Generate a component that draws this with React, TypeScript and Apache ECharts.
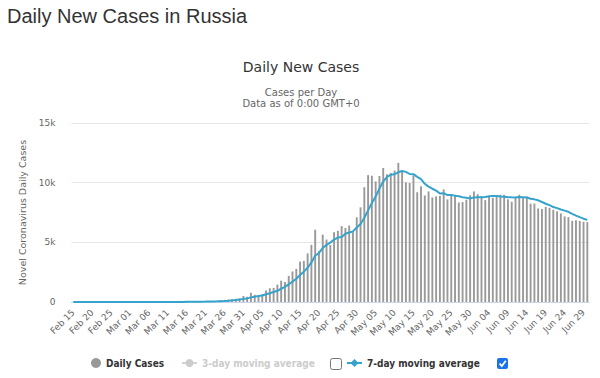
import React, { useEffect, useRef } from 'react';
import * as echarts from 'echarts';

// Daily new cases, Feb 15 – Jun 30, 2020
const startDate = { year: 2020, month: 1, day: 15 };

const dailyCases = [
  // Feb 15 – Feb 29
  0, 0, 0, 0, 0, 0, 0, 0, 0, 0, 0, 0, 0, 0, 0,
  // Mar
  0, 1, 0, 0, 1, 6, 4, 3, 0, 3, 0, 8, 17, 14, 4, 30, 21, 33, 52, 54, 53, 61, 71, 57, 163, 182, 196, 228, 270, 302, 501,
  // Apr
  440, 771, 601, 582, 658, 954, 1154, 1175, 1459, 1786, 1667, 2186, 2558, 2774, 3388, 3448, 4070, 4785, 6060, 4268,
  5642, 5236, 4774, 5849, 5966, 6361, 6198, 6411, 5841, 7099,
  // May
  7933, 9623, 10633, 10581, 10102, 10559, 11231, 10699, 10817, 11012, 11656, 10899, 10028, 9974, 10598, 9200, 9709,
  8926, 9263, 8764, 8849, 8894, 9434, 8599, 8946, 8915, 8338, 8371, 8572, 8952, 9268,
  // Jun
  9035, 8863, 8536, 8831, 8726, 8855, 8984, 8985, 8595, 8404, 8779, 8987, 8706, 8835, 8246, 8248, 7843, 7790, 7972,
  7889, 7728, 7600, 7425, 7176, 7113, 6800, 6852, 6791, 6719, 6693,
];

const sevenDayAverage = [
  // Feb 15 – Feb 29
  0, 0, 0, 0, 0, 0, 0, 0, 0, 0, 0, 0, 0, 0, 0,
  // Mar
  0, 0, 0, 0, 0, 1, 2, 2, 2, 2, 2, 3, 5, 6, 7, 11, 13, 18, 24, 30, 35, 43, 49, 54, 73, 92, 112, 137, 167, 200, 263,
  // Apr
  303, 387, 445, 495, 551, 644, 737, 842, 940, 1110, 1265, 1483, 1712, 1944, 2260, 2544, 2870, 3316, 3869, 4113,
  4523, 4787, 4976, 5231, 5399, 5442, 5718, 5828, 5914, 6246,
  // May
  6544, 7067, 7677, 8303, 8830, 9504, 10095, 10490, 10660, 10714, 10868, 10982, 10906, 10726, 10712, 10481, 10295,
  9905, 9671, 9491, 9330, 9086, 9120, 8961, 8964, 8914, 8854, 8785, 8739, 8670, 8766,
  // Jun
  8779, 8771, 8800, 8865, 8887, 8873, 8833, 8826, 8787, 8769, 8761, 8798, 8777, 8756, 8650, 8601, 8521, 8379, 8234,
  8118, 7959, 7867, 7750, 7654, 7558, 7390, 7242, 7108, 6982, 6878,
];

// The 3-day moving average is switched off in the legend (unchecked), so nothing is drawn
const threeDayAverage: number[] = [];

const yMin = 0;
const yMax = 15000;
const yStep = 5000;

const monthNames = ['Jan', 'Feb', 'Mar', 'Apr', 'May', 'Jun', 'Jul', 'Aug', 'Sep', 'Oct', 'Nov', 'Dec'];
const dateLabels = dailyCases.map((_, i) => {
  const d = new Date(Date.UTC(startDate.year, startDate.month, startDate.day + i));
  return `${monthNames[d.getUTCMonth()]} ${String(d.getUTCDate()).padStart(2, '0')}`;
});

const FONT = '"DejaVu Sans", Verdana, sans-serif';
const LEGEND_FONT = '"DejaVu Sans Condensed", "DejaVu Sans", Verdana, sans-serif';
const BLUE = '#35a3cb';
const GRAY = '#999999';

export default function App() {
  const ref = useRef<HTMLDivElement>(null);

  useEffect(() => {
    if (!ref.current) return;
    const chart = echarts.init(ref.current, undefined, { renderer: 'svg' });
    const legendText = { fontFamily: LEGEND_FONT, fontSize: 10, fontWeight: 'bold', color: '#333' };
    chart.setOption({
      animation: false,
      backgroundColor: '#ffffff',
      grid: { left: 71.4, right: 10.8, top: 123, bottom: 76 },
      xAxis: {
        type: 'category',
        data: dateLabels,
        boundaryGap: true,
        axisLine: { lineStyle: { color: '#ccd6eb', width: 1 } },
        axisTick: { show: false },
        splitLine: { show: false },
        axisLabel: { interval: 4, rotate: 45, fontSize: 9, color: '#666', fontFamily: FONT, margin: 9 },
      },
      yAxis: {
        type: 'value',
        min: yMin,
        max: yMax,
        interval: yStep,
        name: 'Novel Coronavirus Daily Cases',
        nameLocation: 'middle',
        nameGap: 38,
        nameTextStyle: { color: '#666', fontSize: 9.5, fontFamily: FONT },
        axisLine: { show: false },
        axisTick: { show: false },
        splitLine: { lineStyle: { color: '#e6e6e6', width: 1 } },
        axisLabel: {
          color: '#666',
          fontSize: 9,
          fontFamily: FONT,
          margin: 16,
          formatter: (v: number) => (v === 0 ? '0' : `${v / 1000}k`),
        },
      },
      legend: [
        {
          data: ['Daily Cases'],
          left: 91,
          top: 358,
          padding: 0,
          icon: 'circle',
          itemWidth: 10,
          itemHeight: 10,
          textStyle: legendText,
        },
        {
          data: ['3-day moving average'],
          left: 181,
          top: 358,
          padding: 0,
          itemWidth: 15,
          itemHeight: 10,
          inactiveColor: '#cccccc',
          selected: { '3-day moving average': false },
          textStyle: legendText,
        },
        {
          data: ['7-day moving average'],
          left: 346,
          top: 358,
          padding: 0,
          itemWidth: 15,
          itemHeight: 10,
          textStyle: legendText,
        },
      ],
      series: [
        {
          name: 'Daily Cases',
          type: 'bar',
          data: dailyCases,
          barWidth: '50%',
          itemStyle: { color: GRAY },
        },
        {
          name: '3-day moving average',
          type: 'line',
          data: threeDayAverage,
          symbol: 'circle',
          itemStyle: { color: GRAY },
        },
        {
          name: '7-day moving average',
          type: 'line',
          data: sevenDayAverage,
          showSymbol: false,
          symbol: 'diamond',
          itemStyle: { color: BLUE },
          lineStyle: { color: BLUE, width: 2 },
          z: 3,
        },
      ],
      graphic: [
        {
          type: 'text',
          x: 7,
          y: 15.5,
          style: {
            text: 'Daily New Cases in Russia',
            fontSize: 20,
            fontFamily: '"Liberation Sans", Arial, sans-serif',
            fill: '#333333',
            align: 'left',
            verticalAlign: 'middle',
          },
        },
        {
          type: 'text',
          x: 301,
          y: 67,
          style: {
            text: 'Daily New Cases',
            fontSize: 14,
            fontFamily: FONT,
            fill: '#333333',
            align: 'center',
            verticalAlign: 'middle',
          },
        },
        {
          type: 'text',
          x: 301,
          y: 92,
          style: { text: 'Cases per Day', fontSize: 10, fontFamily: FONT, fill: '#666666', align: 'center', verticalAlign: 'middle' },
        },
        {
          type: 'text',
          x: 301,
          y: 103.5,
          style: { text: 'Data as of 0:00 GMT+0', fontSize: 10, fontFamily: FONT, fill: '#666666', align: 'center', verticalAlign: 'middle' },
        },
        {
          type: 'rect',
          shape: { x: 330.5, y: 358.5, width: 11, height: 11, r: 2 },
          style: { fill: '#ffffff', stroke: '#767676', lineWidth: 1 },
        },
        {
          type: 'rect',
          shape: { x: 497, y: 358, width: 11, height: 11, r: 2 },
          style: { fill: '#1a73e8' },
        },
        {
          type: 'polyline',
          shape: { points: [[499.5, 363.5], [501.8, 366], [505.8, 360.8]] },
          style: { stroke: '#ffffff', lineWidth: 1.8, fill: null },
        },
      ],
    });
    return () => chart.dispose();
  }, []);

  return <div ref={ref} style={{ position: 'absolute', left: 0, top: 0, width: 600, height: 378 }} />;
}
